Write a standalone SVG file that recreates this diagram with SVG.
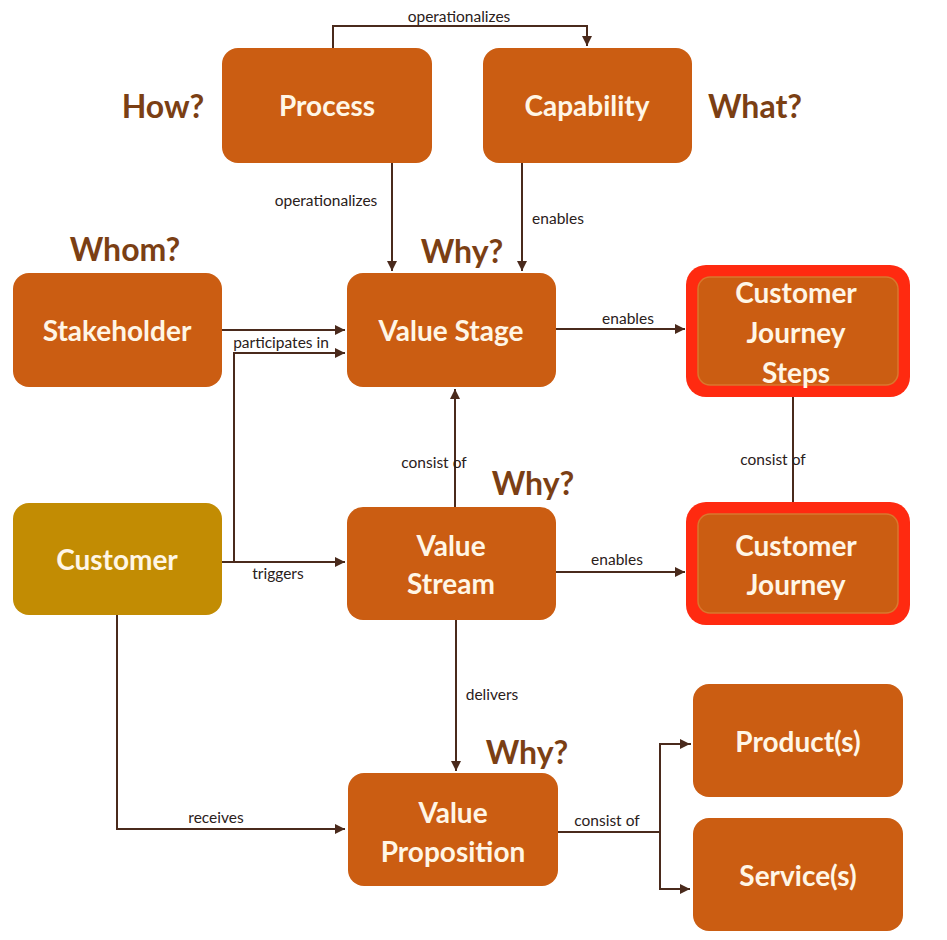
<svg xmlns="http://www.w3.org/2000/svg" width="947" height="940" viewBox="0 0 947 940">
<style>
.box{fill:#CB5D12;}
.cust{fill:#C28C03;}
.red{fill:#FF2A10;}
.inner{fill:#CB5D12;stroke:#D9782E;stroke-width:1.5;}
.t{font-family:Lato,"Open Sans",sans-serif;font-weight:bold;font-size:28px;fill:#FFF6E6;text-anchor:middle;dominant-baseline:central;}
.q{font-family:Lato,"Open Sans",sans-serif;font-weight:bold;font-size:32px;fill:#7B3F14;text-anchor:middle;dominant-baseline:central;}
.l{font-family:Lato,"Open Sans",sans-serif;font-size:15.5px;fill:#2A201A;text-anchor:middle;dominant-baseline:central;}
.c{fill:none;stroke:#4A2A1C;stroke-width:2;}
</style>
<defs>
<marker id="ah" viewBox="0 0 10 10" refX="10" refY="5" markerWidth="5" markerHeight="5" orient="auto">
<path d="M0,0 L10,5 L0,10 z" fill="#4A2A1C"/>
</marker>
</defs>
<rect width="947" height="940" fill="#FFFFFF"/>

<g id="connectors">
<path class="c" d="M333,48 V26 H587 V46" marker-end="url(#ah)"/>
<text class="l" x="459" y="16">operationalizes</text>
<path class="c" d="M392,163 V271" marker-end="url(#ah)"/>
<text class="l" x="326" y="200">operationalizes</text>
<path class="c" d="M522,163 V271" marker-end="url(#ah)"/>
<text class="l" x="558" y="218">enables</text>
<path class="c" d="M222,330 H345" marker-end="url(#ah)"/>
<text class="l" x="281" y="342">participates in</text>
<path class="c" d="M234,562 V353 H345" marker-end="url(#ah)"/>
<path class="c" d="M222,562 H345" marker-end="url(#ah)"/>
<text class="l" x="278" y="573">triggers</text>
<path class="c" d="M455,507 V389" marker-end="url(#ah)"/>
<text class="l" x="434" y="462">consist of</text>
<path class="c" d="M556,329 H685" marker-end="url(#ah)"/>
<text class="l" x="628" y="318">enables</text>
<path class="c" d="M793,397 V503"/>
<text class="l" x="773" y="459">consist of</text>
<path class="c" d="M556,572 H685" marker-end="url(#ah)"/>
<text class="l" x="617" y="559">enables</text>
<path class="c" d="M456,620 V771" marker-end="url(#ah)"/>
<text class="l" x="492" y="694">delivers</text>
<path class="c" d="M117,615 V829 H345" marker-end="url(#ah)"/>
<text class="l" x="216" y="817">receives</text>
<path class="c" d="M556,832 H660"/>
<path class="c" d="M691,744 H660 V889 H690" marker-end="url(#ah)"/>
<path class="c" d="M661,744 H690" marker-end="url(#ah)"/>
<text class="l" x="607" y="820">consist of</text>
</g>

<g id="questions">
<text class="q" x="163" y="105">How?</text>
<text class="q" x="755" y="105">What?</text>
<text class="q" x="125" y="248">Whom?</text>
<text class="q" x="462" y="250">Why?</text>
<text class="q" x="533" y="482">Why?</text>
<text class="q" x="527" y="751">Why?</text>
</g>

<g id="process">
<rect class="box" x="222" y="48" width="210" height="115" rx="16"/>
<text class="t" x="327" y="105">Process</text>
</g>
<g id="capability">
<rect class="box" x="483" y="48" width="209" height="115" rx="16"/>
<text class="t" x="587" y="105">Capability</text>
</g>
<g id="stakeholder">
<rect class="box" x="13" y="273" width="209" height="114" rx="16"/>
<text class="t" x="117" y="330">Stakeholder</text>
</g>
<g id="value-stage">
<rect class="box" x="347" y="273" width="209" height="114" rx="16"/>
<text class="t" x="451" y="330">Value Stage</text>
</g>
<g id="customer-journey-steps">
<rect class="red" x="686" y="265" width="224" height="132" rx="20"/>
<rect class="inner" x="698" y="277" width="200" height="108" rx="12"/>
<text class="t" x="796" y="292">Customer</text>
<text class="t" x="796" y="332">Journey</text>
<text class="t" x="796" y="372">Steps</text>
</g>
<g id="customer">
<rect class="cust" x="13" y="503" width="209" height="112" rx="16"/>
<text class="t" x="117" y="559">Customer</text>
</g>
<g id="value-stream">
<rect class="box" x="347" y="507" width="209" height="113" rx="16"/>
<text class="t" x="451" y="545">Value</text>
<text class="t" x="451" y="583">Stream</text>
</g>
<g id="customer-journey">
<rect class="red" x="686" y="502" width="224" height="123" rx="20"/>
<rect class="inner" x="698" y="514" width="200" height="99" rx="12"/>
<text class="t" x="796" y="545">Customer</text>
<text class="t" x="796" y="584">Journey</text>
</g>
<g id="products">
<rect class="box" x="693" y="684" width="210" height="113" rx="16"/>
<text class="t" x="798" y="741">Product(s)</text>
</g>
<g id="services">
<rect class="box" x="693" y="818" width="210" height="113" rx="16"/>
<text class="t" x="798" y="875">Service(s)</text>
</g>
<g id="value-proposition">
<rect class="box" x="348" y="773" width="210" height="113" rx="16"/>
<text class="t" x="453" y="812">Value</text>
<text class="t" x="453" y="851">Proposition</text>
</g>
</svg>
